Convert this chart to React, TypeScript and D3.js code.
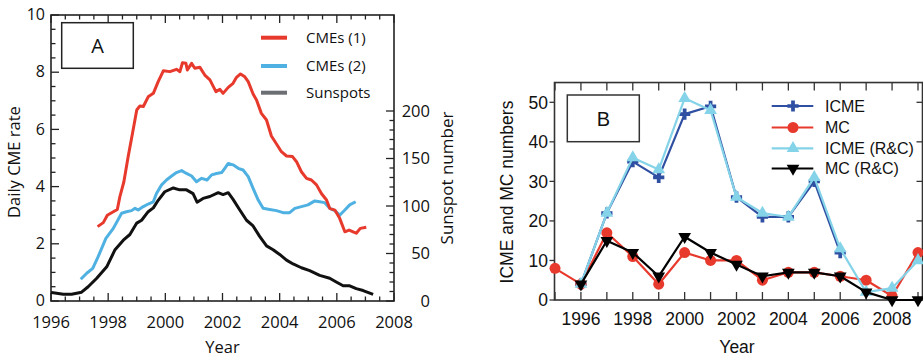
import React from "react";
import * as d3 from "d3";

// ---------- Panel A data ----------
const cme1Years = [1997.63, 1997.83, 1997.97, 1998.18, 1998.32, 1998.41, 1998.55, 1998.7, 1998.85, 1999.0, 1999.11, 1999.23, 1999.4, 1999.58, 1999.75, 1999.93, 2000.16, 2000.39, 2000.51, 2000.6, 2000.72, 2000.77, 2000.92, 2001.03, 2001.21, 2001.38, 2001.56, 2001.77, 2001.91, 2002.02, 2002.2, 2002.37, 2002.49, 2002.63, 2002.78, 2002.9, 2003.07, 2003.19, 2003.36, 2003.54, 2003.71, 2003.89, 2004.06, 2004.24, 2004.45, 2004.59, 2004.76, 2004.94, 2005.11, 2005.29, 2005.46, 2005.64, 2005.75, 2005.93, 2006.1, 2006.28, 2006.43, 2006.57, 2006.68, 2006.82, 2007.03];
const cme1Rate = [2.6, 2.74, 3.0, 3.12, 3.2, 3.65, 4.17, 5.05, 5.86, 6.68, 6.82, 6.8, 7.14, 7.26, 7.67, 8.05, 8.02, 8.1, 8.02, 8.33, 8.31, 8.08, 8.31, 8.14, 8.17, 7.9, 7.73, 7.32, 7.4, 7.26, 7.47, 7.61, 7.82, 7.94, 7.84, 7.67, 7.24, 7.03, 6.56, 6.33, 5.77, 5.49, 5.22, 5.07, 5.05, 4.87, 4.52, 4.29, 4.23, 4.06, 3.76, 3.53, 3.24, 3.18, 2.89, 2.42, 2.48, 2.42, 2.37, 2.54, 2.58];

const cme2Years = [1997.04, 1997.25, 1997.46, 1997.65, 1997.92, 1998.18, 1998.47, 1998.64, 1998.82, 1998.94, 1999.05, 1999.23, 1999.4, 1999.58, 1999.69, 1999.87, 2000.04, 2000.22, 2000.39, 2000.57, 2000.74, 2000.92, 2001.09, 2001.27, 2001.46, 2001.62, 2001.79, 2001.97, 2002.08, 2002.2, 2002.37, 2002.55, 2002.72, 2002.9, 2003.07, 2003.25, 2003.42, 2003.65, 2003.89, 2004.12, 2004.35, 2004.53, 2004.76, 2004.99, 2005.23, 2005.4, 2005.57, 2005.75, 2005.93, 2006.1, 2006.28, 2006.45, 2006.66];
const cme2Rate = [0.76, 0.97, 1.14, 1.55, 2.19, 2.54, 3.07, 3.12, 3.16, 3.24, 3.18, 3.3, 3.39, 3.47, 3.76, 4.06, 4.23, 4.37, 4.49, 4.56, 4.46, 4.37, 4.17, 4.29, 4.23, 4.41, 4.46, 4.49, 4.64, 4.81, 4.76, 4.64, 4.58, 4.35, 3.94, 3.53, 3.24, 3.2, 3.16, 3.09, 3.09, 3.24, 3.3, 3.36, 3.5, 3.47, 3.44, 3.24, 3.16, 3.0, 3.18, 3.36, 3.47];

const sunYears = [1996.0, 1996.08, 1996.43, 1996.72, 1997.07, 1997.3, 1997.6, 1997.95, 1998.24, 1998.53, 1998.76, 1999.0, 1999.17, 1999.4, 1999.58, 1999.75, 1999.98, 2000.28, 2000.5, 2000.74, 2000.97, 2001.11, 2001.32, 2001.56, 2001.85, 2002.02, 2002.2, 2002.37, 2002.6, 2002.84, 2003.07, 2003.3, 2003.54, 2003.77, 2004.0, 2004.24, 2004.47, 2004.76, 2005.05, 2005.4, 2005.75, 2005.98, 2006.22, 2006.45, 2006.68, 2006.92, 2007.27];
const sunNumber = [9, 8.7, 7.2, 7.2, 9.3, 15, 24, 36, 54, 64, 70, 82, 85, 94, 98, 106, 115, 119, 117, 117, 113, 104, 108, 110, 114, 112, 114, 107, 96, 85, 79, 68, 58, 54, 49, 43, 39, 35, 32, 27, 24, 20, 16, 16, 13, 11, 7];

const legendA = ["CMEs (1)", "CMEs (2)", "Sunspots"];
const xTickLabelsA = [1996, 1998, 2000, 2002, 2004, 2006, 2008];
const yTickLabelsA = [0, 2, 4, 6, 8, 10];
const sunTickLabels = [0, 50, 100, 150, 200];

// ---------- Panel B data ----------
const yearsB = [1995, 1996, 1997, 1998, 1999, 2000, 2001, 2002, 2003, 2004, 2005, 2006, 2007, 2008, 2009];
const icme = [null, 4, 22, 35, 31, 47, 49, 26, 21, 21, 30, 12, null, null, null];
const mc = [8, 4, 17, 11, 4, 12, 10, 10, 5, 7, 7, 6, 5, 1, 12];
const icmeRC = [null, 4, 22, 36, 33, 51, 48, 26, 22, 21, 31, 13, 2, 3, 10];
const mcRC = [null, 4, 15, 12, 6, 16, 12, 9, 6, 7, 7, 6, 2, 0, 0];
const legendB = ["ICME", "MC", "ICME (R&C)", "MC (R&C)"];
const xTickLabelsB = [1996, 1998, 2000, 2002, 2004, 2006, 2008];
const yTickLabelsB = [0, 10, 20, 30, 40, 50];

const RED = "#e8392d";
const LBLUE = "#4eb1e2";
const DBLUE = "#2f4fa2";
const CYAN = "#84d3e8";

const fontA = "'Open Sans', sans-serif";
const fontB = "'Liberation Sans', Arial, sans-serif";

function PanelA() {
  const x = d3.scaleLinear().domain([1996, 2008]).range([51, 394]);
  const y = d3.scaleLinear().domain([0, 10]).range([301, 15]);
  const ys = d3.scaleLinear().domain([0, 200]).range([301, 111]);
  const [x0, x1] = x.range();
  const [yb, yt] = y.range();

  const lineY = (xs: number[], vs: number[]) =>
    d3.line<number>().x((_, i) => x(xs[i])).y((v) => y(v)).curve(d3.curveLinear)(vs) || "";
  const lineS = d3.line<number>().x((_, i) => x(sunYears[i])).y((v) => ys(v))(sunNumber) || "";

  const xt = d3.range(1996, 2008.01, 0.5);
  const yTicks = d3.range(0, 10.01, 0.5);
  const sTicks = d3.range(0, 200.01, 10);

  return (
    <g fontFamily={fontA}>
      {xt.map((t) => {
        const major = Math.abs((t - 1996) % 2) < 1e-6;
        const L = major ? 8 : 4.5;
        return (
          <g key={"xt" + t} stroke="#222" strokeWidth={1.3}>
            <line x1={x(t)} x2={x(t)} y1={yb} y2={yb - L} />
            <line x1={x(t)} x2={x(t)} y1={yt} y2={yt + L} />
          </g>
        );
      })}
      {yTicks.map((t) => {
        const major = Math.abs(t % 2) < 1e-6;
        const L = major ? 8 : 4.5;
        return <line key={"yt" + t} x1={x0} x2={x0 + L} y1={y(t)} y2={y(t)} stroke="#222" strokeWidth={1.3} />;
      })}
      {sTicks.map((t) => {
        const major = Math.abs(t % 50) < 1e-6;
        const L = major ? 8 : 4.5;
        return <line key={"st" + t} x1={x1} x2={x1 - L} y1={ys(t)} y2={ys(t)} stroke="#222" strokeWidth={1.3} />;
      })}
      <rect x={x0} y={yt} width={x1 - x0} height={yb - yt} fill="none" stroke="#222" strokeWidth={1.6} />

      {xTickLabelsA.map((t) => (
        <text key={"xl" + t} x={x(t)} y={328} textAnchor="middle" fontSize={16.5} fill="#111">{t}</text>
      ))}
      {yTickLabelsA.map((t) => (
        <text key={"yl" + t} x={45} y={y(t) - 0.5} dy="0.36em" textAnchor="end" fontSize={16} fill="#111">{t}</text>
      ))}
      {sunTickLabels.map((t) => (
        <text key={"sl" + t} x={430} y={ys(t)} dy="0.36em" textAnchor="end" fontSize={16.5} fill="#111">{t}</text>
      ))}
      <text x={(x0 + x1) / 2} y={353} textAnchor="middle" fontSize={16.5} fill="#111">Year</text>
      <text transform={`translate(19.5,162) rotate(-90)`} textAnchor="middle" fontSize={16.5} fill="#111">Daily CME rate</text>
      <text transform={`translate(453,178) rotate(-90)`} textAnchor="middle" fontSize={17} fill="#111">Sunspot number</text>

      <path d={lineS} fill="none" stroke="#111" strokeWidth={3} strokeLinejoin="round" />
      <path d={lineY(cme2Years, cme2Rate)} fill="none" stroke={LBLUE} strokeWidth={3} strokeLinejoin="round" />
      <path d={lineY(cme1Years, cme1Rate)} fill="none" stroke={RED} strokeWidth={3} strokeLinejoin="round" />

      <rect x={61.7} y={22.7} width={71.6} height={45.6} fill="#fff" stroke="#222" strokeWidth={1.5} />
      <text x={97.5} y={45.5} dy="0.36em" textAnchor="middle" fontSize={20} fill="#111">A</text>

      {legendA.map((name, i) => {
        const ly = [37.7, 66, 92.7][i];
        const col = [RED, LBLUE, "#6b6e72"][i];
        return (
          <g key={name}>
            <line x1={261} x2={287} y1={ly} y2={ly} stroke={col} strokeWidth={4} />
            <text x={306} y={ly} dy="0.36em" fontSize={15} fill="#111">{name}</text>
          </g>
        );
      })}
    </g>
  );
}

function PanelB() {
  const x = d3.scaleLinear().domain([1995, 2009]).range([555, 918]);
  const y = d3.scaleLinear().domain([0, 50]).range([300, 102.3]);
  const xL = 554.5;
  const xR = 922.5;
  const yB = y(0);
  const yT = y(55);

  const mkLine = (vals: (number | null)[]) =>
    d3
      .line<number | null>()
      .defined((v) => v !== null)
      .x((_, i) => x(yearsB[i]))
      .y((v) => y(v as number))(vals) || "";

  const cross = d3.symbol().type(d3.symbolCross).size(70)() || "";
  const tri = d3.symbol().type(d3.symbolTriangle).size(70)() || "";
  const circ = d3.symbol().type(d3.symbolCircle).size(95)() || "";

  const series = [
    { vals: icme, color: DBLUE, shape: cross, rot: 0 },
    { vals: mc, color: RED, shape: circ, rot: 0 },
    { vals: icmeRC, color: CYAN, shape: tri, rot: 0 },
    { vals: mcRC, color: "#000", shape: tri, rot: 180 },
  ];

  const yTicks = d3.range(0, 51, 10);

  return (
    <g fontFamily={fontB}>
      {yearsB.map((t) => (
        <g key={"bt" + t} stroke="#333" strokeWidth={1.3}>
          <line x1={x(t)} x2={x(t)} y1={yB} y2={yB - 8} />
          <line x1={x(t)} x2={x(t)} y1={yT} y2={yT + 8} />
        </g>
      ))}
      {yTicks.map((t) => (
        <g key={"byt" + t} stroke="#333" strokeWidth={1.3}>
          <line x1={xL} x2={xL - 5} y1={y(t)} y2={y(t)} />
          <line x1={xR} x2={xR - 6} y1={y(t)} y2={y(t)} />
        </g>
      ))}
      <rect x={xL} y={yT} width={xR - xL} height={yB - yT} fill="none" stroke="#333" strokeWidth={1.6} />

      {xTickLabelsB.map((t) => (
        <text key={"bxl" + t} x={x(t)} y={325} textAnchor="middle" fontSize={17.5} fill="#111">{t}</text>
      ))}
      {yTickLabelsB.map((t) => (
        <text key={"byl" + t} x={548} y={y(t)} dy="0.36em" textAnchor="end" fontSize={17.5} fill="#111">{t}</text>
      ))}
      <text x={737} y={353} textAnchor="middle" fontSize={17.5} fill="#111">Year</text>
      <text transform={`translate(513,192) rotate(-90)`} textAnchor="middle" fontSize={17.5} fill="#111">ICME and MC numbers</text>

      {series.map((s, si) => (
        <g key={"s" + si}>
          <path d={mkLine(s.vals)} fill="none" stroke={s.color} strokeWidth={2.2} strokeLinejoin="round" />
          {s.vals.map((v, i) =>
            v === null ? null : (
              <path key={i} d={s.shape} fill={s.color} transform={`translate(${x(yearsB[i])},${y(v)}) rotate(${s.rot})`} />
            )
          )}
        </g>
      ))}

      <rect x={567.3} y={95} width={72} height={46.7} fill="#fff" stroke="#333" strokeWidth={1.5} />
      <text x={603.3} y={118.3} dy="0.36em" textAnchor="middle" fontSize={20} fill="#111">B</text>

      {legendB.map((name, i) => {
        const ly = [106, 127.5, 148.3, 168.5][i];
        const s = series[i];
        return (
          <g key={name}>
            <line x1={771.7} x2={813.3} y1={ly} y2={ly} stroke={s.color} strokeWidth={2.2} />
            <path d={s.shape} fill={s.color} transform={`translate(793,${ly}) rotate(${s.rot})`} />
            <text x={825} y={ly} dy="0.36em" fontSize={16} fill="#111">{name}</text>
          </g>
        );
      })}
    </g>
  );
}

export default function App() {
  return (
    <svg
      width={923}
      height={358}
      viewBox="0 0 923 358"
      style={{ position: "absolute", left: 0, top: 0, background: "#fff", display: "block" }}
    >
      <rect width={923} height={358} fill="#fff" />
      <PanelA />
      <PanelB />
    </svg>
  );
}
